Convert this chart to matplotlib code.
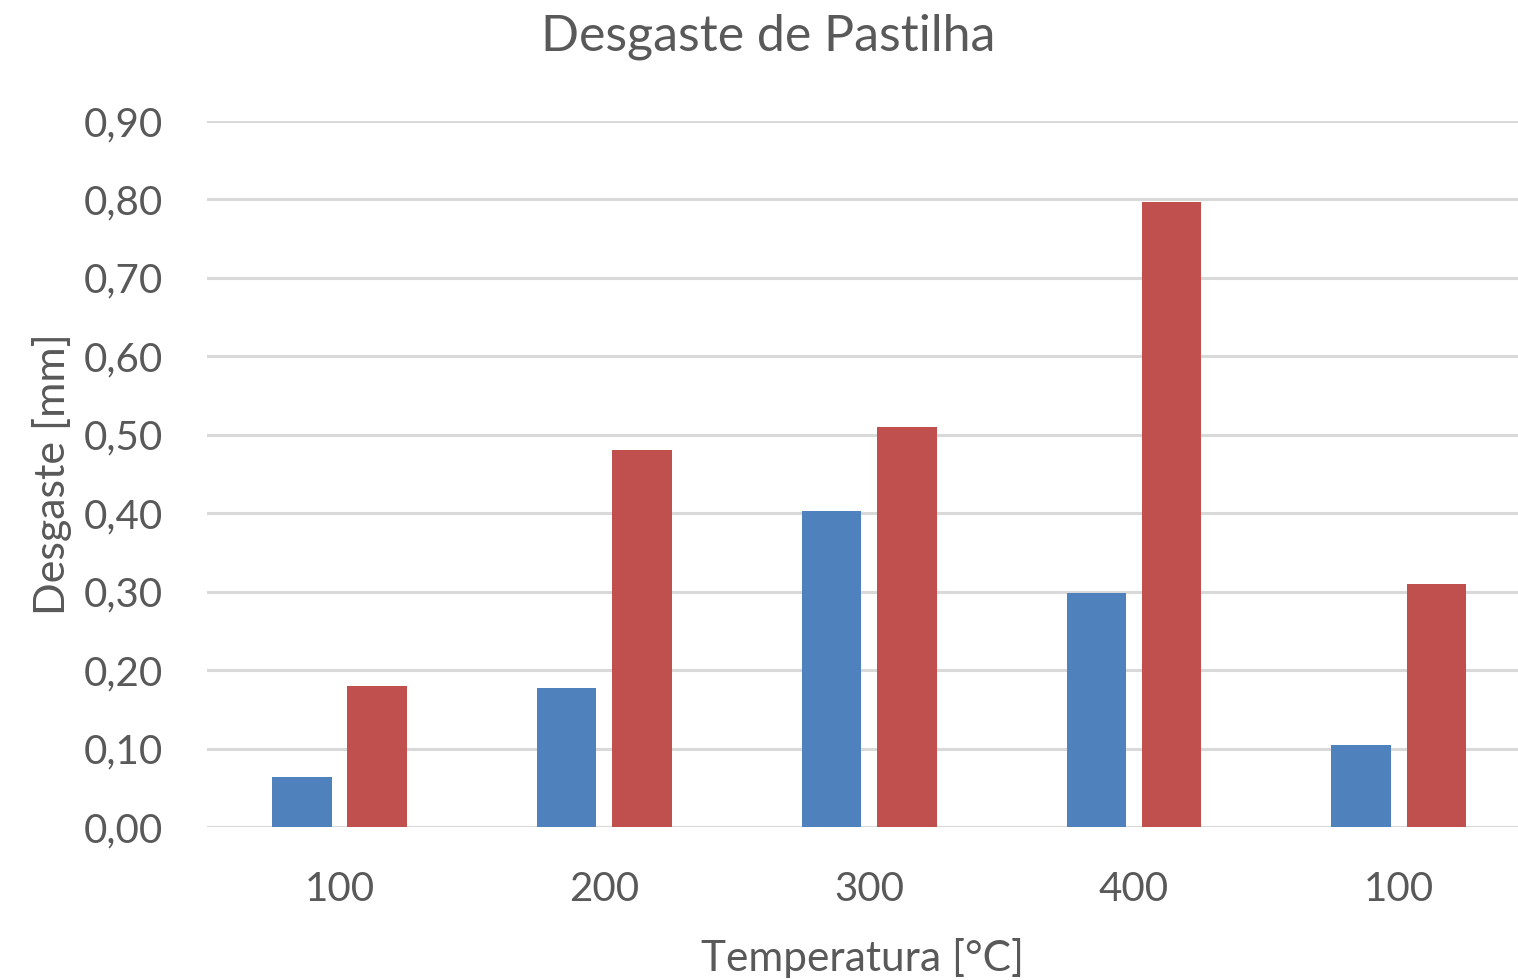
import numpy as np
import matplotlib
matplotlib.use("Agg")
import matplotlib.pyplot as plt
from matplotlib.ticker import FuncFormatter

# wear per temperature step, two series
temperaturas = ["100", "200", "300", "400", "100"]
desgaste_a = [0.064, 0.177, 0.403, 0.298, 0.105]
desgaste_b = [0.180, 0.481, 0.510, 0.797, 0.310]

AZUL = "#4F81BD"
VERMELHO = "#C0504D"
TEXTO = "#595959"
GRADE = "#D9D9D9"

plt.rcParams["font.family"] = ["Lato", "DejaVu Sans"]

fig = plt.figure(figsize=(15.18, 9.8), dpi=100)
ax = fig.add_axes([0.1364, 0.1561, 0.8636, 0.7204])

x = np.arange(len(temperaturas))
largura = 0.225
ax.bar(x - 0.142, desgaste_a, largura, color=AZUL, zorder=3)
ax.bar(x + 0.142, desgaste_b, largura, color=VERMELHO, zorder=3)

ax.set_xlim(-0.5, 4.45)
ax.set_ylim(0, 0.9)
ax.set_yticks(np.arange(0, 0.91, 0.1))
ax.yaxis.set_major_formatter(FuncFormatter(lambda v, p: f"{v:.2f}".replace(".", ",")))
ax.set_xticks(x)
ax.set_xticklabels(temperaturas)

ax.grid(axis="y", color=GRADE, linewidth=2.2, zorder=0)
for s in ax.spines.values():
    s.set_visible(False)
ax.tick_params(length=0, labelsize=29, colors=TEXTO)
ax.tick_params(axis="y", pad=32)
ax.tick_params(axis="x", pad=32)

fig.suptitle("Desgaste de Pastilha", x=0.506, y=0.962, fontsize=36, color=TEXTO, va="center")
ax.set_xlabel("Temperatura [°C]", fontsize=30.5, color=TEXTO, labelpad=21)
ax.set_ylabel("Desgaste [mm]", fontsize=31, color=TEXTO, labelpad=8)

fig.savefig("out.png", dpi=100)
